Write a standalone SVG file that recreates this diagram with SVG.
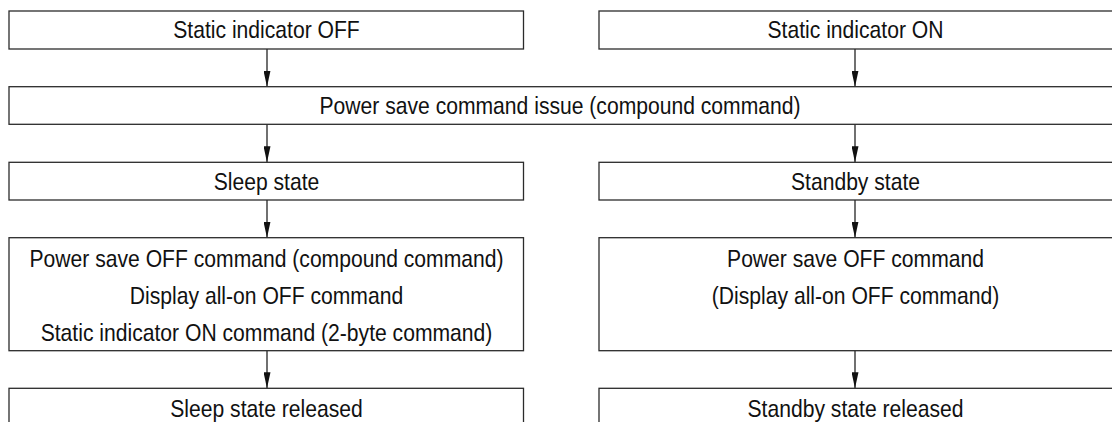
<svg xmlns="http://www.w3.org/2000/svg" width="1112" height="422" viewBox="0 0 1112 422">
<style>
.box{fill:#fff;stroke:#2b2b2b;stroke-width:1.3}
.t{font-family:"Liberation Sans",Arial,sans-serif;font-size:24px;fill:#111;text-anchor:middle}
.c{stroke:#111;stroke-width:1.2;fill:none}
</style>
<defs>
<marker id="ah" viewBox="0 0 16 7" refX="16" refY="3.5" markerWidth="16" markerHeight="7" markerUnits="userSpaceOnUse" orient="auto">
<path d="M0,0 L16,3.5 L0,7 z" fill="#111"/>
</marker>
</defs>
<rect width="1112" height="422" fill="#fff"/>
<g id="connectors">
<line class="c" x1="267" y1="49" x2="267" y2="86.7" marker-end="url(#ah)"/>
<line class="c" x1="855" y1="49" x2="855" y2="86.7" marker-end="url(#ah)"/>
<line class="c" x1="267" y1="124.3" x2="267" y2="162.3" marker-end="url(#ah)"/>
<line class="c" x1="855" y1="124.3" x2="855" y2="162.3" marker-end="url(#ah)"/>
<line class="c" x1="267" y1="200" x2="267" y2="237.7" marker-end="url(#ah)"/>
<line class="c" x1="855" y1="200" x2="855" y2="237.7" marker-end="url(#ah)"/>
<line class="c" x1="267" y1="350.7" x2="267" y2="388.3" marker-end="url(#ah)"/>
<line class="c" x1="855" y1="350.7" x2="855" y2="388.3" marker-end="url(#ah)"/>
</g>
<g id="n_static_off">
<rect class="box" x="9" y="11" width="514.5" height="38"/>
<text class="t" transform="translate(266.5 38) scale(0.88 1)">Static indicator OFF</text>
</g>
<g id="n_static_on">
<rect class="box" x="599" y="11" width="520" height="38"/>
<text class="t" transform="translate(855.5 38) scale(0.88 1)">Static indicator ON</text>
</g>
<g id="n_power_save">
<rect class="box" x="9" y="86.7" width="1110" height="37.6"/>
<text class="t" transform="translate(560 114) scale(0.88 1)">Power save command issue (compound command)</text>
</g>
<g id="n_sleep">
<rect class="box" x="9" y="162.3" width="514.5" height="37.7"/>
<text class="t" transform="translate(266.5 189.5) scale(0.88 1)">Sleep state</text>
</g>
<g id="n_standby">
<rect class="box" x="599" y="162.3" width="520" height="37.7"/>
<text class="t" transform="translate(855.5 189.5) scale(0.88 1)">Standby state</text>
</g>
<g id="n_sleep_cmds">
<rect class="box" x="9" y="237.7" width="514.5" height="113"/>
<text class="t" transform="translate(266.5 266.7) scale(0.88 1)">Power save OFF command (compound command)</text>
<text class="t" transform="translate(266.5 304) scale(0.88 1)">Display all-on OFF command</text>
<text class="t" transform="translate(266.5 341) scale(0.88 1)">Static indicator ON command (2-byte command)</text>
</g>
<g id="n_standby_cmds">
<rect class="box" x="599" y="237.7" width="520" height="113"/>
<text class="t" transform="translate(855.5 266.7) scale(0.88 1)">Power save OFF command</text>
<text class="t" transform="translate(855.5 304) scale(0.88 1)">(Display all-on OFF command)</text>
</g>
<g id="n_sleep_released">
<rect class="box" x="9" y="388.3" width="514.5" height="60"/>
<text class="t" transform="translate(266.5 416.5) scale(0.88 1)">Sleep state released</text>
</g>
<g id="n_standby_released">
<rect class="box" x="599" y="388.3" width="520" height="60"/>
<text class="t" transform="translate(855.5 416.5) scale(0.88 1)">Standby state released</text>
</g>
</svg>
